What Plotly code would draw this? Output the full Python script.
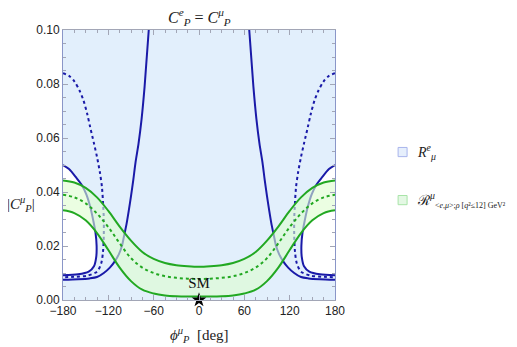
import plotly.graph_objects as go

# green band (R^mu region), sampled every 15 deg
phi_band = [-180, -165, -150, -135, -120, -105, -90, -75, -60, -45, -30, -15, 0,
            15, 30, 45, 60, 75, 90, 105, 120, 135, 150, 165, 180]
band_upper = [0.0443, 0.0435, 0.0415, 0.0380, 0.0330, 0.0272, 0.0220, 0.0178, 0.0152, 0.0137, 0.0129, 0.0125, 0.0123,
              0.0125, 0.0129, 0.0137, 0.0152, 0.0178, 0.0220, 0.0272, 0.0330, 0.0380, 0.0415, 0.0435, 0.0443]
band_mid = [0.0390, 0.0380, 0.0358, 0.0320, 0.0270, 0.0210, 0.0155, 0.0120, 0.0100, 0.0088, 0.0082, 0.0079, 0.0078,
            0.0079, 0.0082, 0.0088, 0.0100, 0.0120, 0.0155, 0.0210, 0.0270, 0.0320, 0.0358, 0.0380, 0.0390]
band_lower = [0.0332, 0.0322, 0.0295, 0.0248, 0.0185, 0.0120, 0.0070, 0.0038, 0.0024, 0.0017, 0.0014, 0.0013, 0.0013,
              0.0013, 0.0014, 0.0017, 0.0024, 0.0038, 0.0070, 0.0120, 0.0185, 0.0248, 0.0295, 0.0322, 0.0332]

# R^e_mu contours, left half
outer_l_x = [-180, -160, -145, -135, -126, -118, -111, -106, -102, -99, -96, -93, -90, -87, -84, -80, -76, -72, -66.5]
outer_l_y = [0.0075, 0.0077, 0.0080, 0.0085, 0.0100, 0.0120, 0.0145, 0.0170, 0.0200, 0.0240, 0.0280, 0.0330,
             0.0385, 0.0444, 0.0510, 0.0580, 0.0670, 0.0790, 0.1000]
inner_l_x = [-180, -172, -163, -155, -149, -144, -140, -137, -135.5, -136, -139, -146, -160, -180]
inner_l_y = [0.0500, 0.0485, 0.0455, 0.0425, 0.0390, 0.0345, 0.0295, 0.0250, 0.0200, 0.0160, 0.0125, 0.0105,
             0.0095, 0.0092]
dot_l_x = [-180, -172, -165, -158, -153, -148, -144, -139, -135, -131, -128.5, -127, -126, -126, -127, -129.5,
           -135, -148, -165, -180]
dot_l_y = [0.0840, 0.0830, 0.0810, 0.0775, 0.0740, 0.0690, 0.0640, 0.0580, 0.0530, 0.0470, 0.0420, 0.0360,
           0.0300, 0.0240, 0.0180, 0.0135, 0.0105, 0.0090, 0.0086, 0.0084]

# right half
outer_r_x = [180, 160, 145, 135, 126, 118, 111, 106, 102, 99, 96, 93, 90, 87, 84, 80, 76, 72, 66.5]
outer_r_y = outer_l_y
inner_r_x = [180, 172, 163, 155, 149, 144, 140, 137, 135.5, 136, 139, 146, 160, 180]
inner_r_y = inner_l_y
dot_r_x = [180, 172, 165, 158, 153, 148, 144, 139, 135, 131, 128.5, 127, 126, 126, 127, 129.5,
           135, 148, 165, 180]
dot_r_y = dot_l_y

sm_x = [0]
sm_y = [0]

legend_labels = [
    "<i>R</i><sup><i>e</i></sup><sub><i>μ</i></sub>",
    "ℛ<sup><i>μ</i></sup><sub><span style='font-size:8px'>&lt;<i>e</i>,<i>μ</i>&gt;;<i>ρ</i> "
    "[<i>q</i>²≤12] GeV²</span></sub>",
]

BLUE = "#1a1aa8"
GREEN = "#22a822"
SERIF = "Liberation Serif"
SANS = "Liberation Sans"
FRAME = "#a2a6b6"

fig = go.Figure()

# white hole in the blue region
for xs, ys in [(inner_l_x, inner_l_y), (inner_r_x, inner_r_y)]:
    fig.add_trace(go.Scatter(x=xs, y=ys, fill="toself", fillcolor="white", mode="none",
                             showlegend=False, hoverinfo="skip"))

for xs, ys in [(outer_l_x, outer_l_y), (outer_r_x, outer_r_y), (inner_l_x, inner_l_y), (inner_r_x, inner_r_y)]:
    fig.add_trace(go.Scatter(x=xs, y=ys, mode="lines", line=dict(color=BLUE, width=2, shape="spline", smoothing=0.8),
                             showlegend=False))
for xs, ys in [(dot_l_x, dot_l_y), (dot_r_x, dot_r_y)]:
    fig.add_trace(go.Scatter(x=xs, y=ys, mode="lines",
                             line=dict(color=BLUE, width=2, dash="dot", shape="spline", smoothing=0.8),
                             showlegend=False))

fig.add_trace(go.Scatter(x=phi_band, y=band_lower, mode="lines",
                         line=dict(color=GREEN, width=2, shape="spline"), showlegend=False))
fig.add_trace(go.Scatter(x=phi_band, y=band_upper, mode="lines", fill="tonexty",
                         fillcolor="rgba(222,254,206,0.6)",
                         line=dict(color=GREEN, width=2, shape="spline"), showlegend=False))
fig.add_trace(go.Scatter(x=phi_band, y=band_mid, mode="lines",
                         line=dict(color=GREEN, width=2, dash="dot", shape="spline"), showlegend=False))

fig.add_trace(go.Scatter(x=sm_x, y=sm_y, mode="markers+text", text=["SM"], textposition="top center",
                         textfont=dict(family=SERIF, size=15, color="#111"),
                         marker=dict(symbol="star", size=11, color="black", line=dict(width=0)),
                         cliponaxis=False, showlegend=False))

axis_common = dict(showline=True, linewidth=1, mirror="ticks", ticks="inside",
                   ticklen=5, tickcolor=FRAME, showgrid=False, zeroline=False,
                   tickfont=dict(family=SANS, size=12, color="#222"))

fig.update_xaxes(range=[-180, 180], tickvals=[-180, -120, -60, 0, 60, 120, 180], linecolor=FRAME,
                 minor=dict(dtick=15, ticklen=3, ticks="inside", tickcolor=FRAME), **axis_common)
fig.update_yaxes(range=[0, 0.1], dtick=0.02, tickformat=".2f", linecolor="#8a96c8",
                 minor=dict(dtick=0.005, ticklen=3, ticks="inside", tickcolor=FRAME), **axis_common)

# legend drawn by hand: swatches + labels, in paper coordinates
legend_y = [0.548, 0.37]
swatch_fill = ["#e6effc", "#e4f8e4"]
swatch_line = ["#a8b4ec", "#a8e4a8"]
shapes = []
annotations = []
for lbl, ly, fc, lc in zip(legend_labels, legend_y, swatch_fill, swatch_line):
    shapes.append(dict(type="rect", xref="paper", yref="paper",
                       x0=1.232, x1=1.265, y0=ly - 0.017, y1=ly + 0.017,
                       fillcolor=fc, line=dict(color=lc, width=1)))
    annotations.append(dict(text=lbl, x=1.295, y=ly, xref="paper", yref="paper", xanchor="left",
                            showarrow=False, font=dict(family=SERIF, size=14, color="#222")))

annotations += [
    dict(text="<i>C</i><sup><i>e</i></sup><sub><i>P</i></sub> = <i>C</i><sup><i>μ</i></sup><sub><i>P</i></sub>",
         x=0.5, y=1.0, xref="paper", yref="paper", yanchor="bottom", yshift=0, showarrow=False,
         font=dict(family=SERIF, size=16)),
    dict(text="|<i>C</i><sup><i>μ</i></sup><sub><i>P</i></sub>|",
         x=-0.215, y=0.31, xref="paper", yref="paper", xanchor="left", showarrow=False,
         font=dict(family=SERIF, size=15)),
    dict(text="<i>ϕ</i><sup><i>μ</i></sup><sub><i>P</i></sub>  [deg]",
         x=0.5, y=-0.085, xref="paper", yref="paper", yanchor="top", showarrow=False,
         font=dict(family=SERIF, size=15)),
]

# page body has an 8px margin, so the figure is 8px smaller and margins shifted
fig.update_layout(
    width=509, height=339,
    margin=dict(l=55, r=182, t=22, b=47),
    plot_bgcolor="#e2effc", paper_bgcolor="white",
    font=dict(family=SERIF, size=14, color="#222"),
    showlegend=False,
    shapes=shapes,
    annotations=annotations,
)

fig.write_html("out.html")
